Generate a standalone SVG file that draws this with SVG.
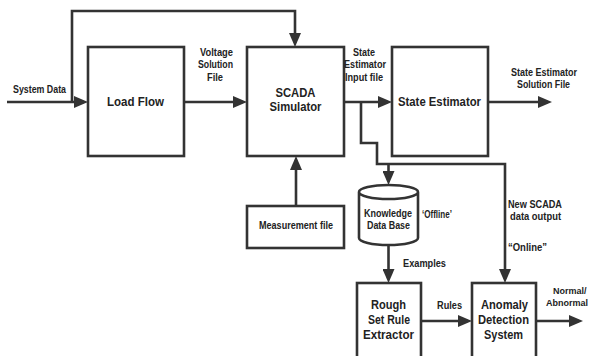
<svg xmlns="http://www.w3.org/2000/svg" width="590" height="356" viewBox="0 0 590 356">
<defs>
<marker id="arr" markerUnits="userSpaceOnUse" markerWidth="14" markerHeight="12" refX="10" refY="6" orient="auto">
<path d="M0,0 L14,6 L0,12 Z" fill="#333"/>
</marker>
<style>
.box{fill:#fff;stroke:#333;stroke-width:2.6}
.ln{fill:none;stroke:#333;stroke-width:2.6;marker-end:url(#arr)}
text{font-family:"Liberation Sans",Arial,sans-serif;font-weight:bold;fill:#222}
.big{font-size:13.5px}
.mid{font-size:13px}
.sm{font-size:10px}
.xs{font-size:9px}
</style>
</defs>
<rect width="590" height="356" fill="#fff"/>
<g id="connectors">
<path class="ln" d="M7,102 H84"/>
<path class="ln" d="M72,102 V11 H295 V43"/>
<path class="ln" d="M184,102 H243"/>
<path class="ln" d="M344,102 H388"/>
<path class="ln" d="M488,102 H548"/>
<path class="ln" d="M361,102 V143 H377 V164 H505 V279"/>
<path class="ln" d="M388.5,164 V181"/>
<path class="ln" d="M296,206 V160"/>
<path class="ln" d="M388.5,245 V279"/>
<path class="ln" d="M421,321 H468"/>
<path class="ln" d="M536,321 H579"/>
</g>
<g id="load-flow">
<rect class="box" x="88" y="47" width="96" height="109"/>
<text class="big" x="107" y="106" textLength="57" lengthAdjust="spacingAndGlyphs">Load Flow</text>
</g>
<g id="scada-simulator">
<rect class="box" x="247" y="47" width="97" height="109"/>
<text class="mid" x="275.5" y="97" textLength="40" lengthAdjust="spacingAndGlyphs">SCADA</text>
<text class="mid" x="269.5" y="111" textLength="52" lengthAdjust="spacingAndGlyphs">Simulator</text>
</g>
<g id="state-estimator">
<rect class="box" x="392" y="47" width="96" height="109"/>
<text class="big" x="398" y="106" textLength="83" lengthAdjust="spacingAndGlyphs">State Estimator</text>
</g>
<g id="measurement-file">
<rect class="box" x="247" y="206" width="97" height="42"/>
<text class="sm" x="259" y="229" textLength="74" lengthAdjust="spacingAndGlyphs">Measurement file</text>
</g>
<g id="knowledge-data-base">
<path class="box" d="M359,192 V238 A29.5,7 0 0 0 418,238 V192 A29.5,7 0 0 0 359,192 A29.5,7 0 0 0 418,192"/>
<text class="sm" x="364" y="217" textLength="48" lengthAdjust="spacingAndGlyphs">Knowledge</text>
<text class="sm" x="367" y="229" textLength="43" lengthAdjust="spacingAndGlyphs">Data Base</text>
</g>
<g id="rough-set-rule-extractor">
<rect class="box" x="357" y="283" width="64" height="80"/>
<text class="big" x="371" y="309" textLength="35" lengthAdjust="spacingAndGlyphs">Rough</text>
<text class="big" x="368" y="324" textLength="42" lengthAdjust="spacingAndGlyphs">Set Rule</text>
<text class="big" x="363" y="339" textLength="51" lengthAdjust="spacingAndGlyphs">Extractor</text>
</g>
<g id="anomaly-detection-system">
<rect class="box" x="472" y="283" width="64" height="80"/>
<text class="big" x="481" y="309" textLength="47" lengthAdjust="spacingAndGlyphs">Anomaly</text>
<text class="big" x="478" y="324" textLength="51" lengthAdjust="spacingAndGlyphs">Detection</text>
<text class="big" x="484" y="339" textLength="39" lengthAdjust="spacingAndGlyphs">System</text>
</g>
<g id="labels">
<text class="sm" x="13" y="93" textLength="53" lengthAdjust="spacingAndGlyphs">System Data</text>
<text class="sm" x="200" y="56" textLength="33" lengthAdjust="spacingAndGlyphs">Voltage</text>
<text class="sm" x="198" y="68" textLength="35" lengthAdjust="spacingAndGlyphs">Solution</text>
<text class="sm" x="207" y="81" textLength="16" lengthAdjust="spacingAndGlyphs">File</text>
<text class="sm" x="353" y="56" textLength="22" lengthAdjust="spacingAndGlyphs">State</text>
<text class="sm" x="344" y="68" textLength="42" lengthAdjust="spacingAndGlyphs">Estimator</text>
<text class="sm" x="345" y="81" textLength="38" lengthAdjust="spacingAndGlyphs">Input file</text>
<text class="sm" x="511" y="76" textLength="66" lengthAdjust="spacingAndGlyphs">State Estimator</text>
<text class="sm" x="517" y="88" textLength="53" lengthAdjust="spacingAndGlyphs">Solution File</text>
<text class="sm" x="422" y="218" textLength="30" lengthAdjust="spacingAndGlyphs">‘Offline’</text>
<text class="sm" x="403" y="267" textLength="43" lengthAdjust="spacingAndGlyphs">Examples</text>
<text class="sm" x="437" y="309" textLength="25" lengthAdjust="spacingAndGlyphs">Rules</text>
<text class="sm" x="508" y="208" textLength="54" lengthAdjust="spacingAndGlyphs">New SCADA</text>
<text class="sm" x="510" y="220" textLength="51" lengthAdjust="spacingAndGlyphs">data output</text>
<text class="sm" x="508" y="251" textLength="39" lengthAdjust="spacingAndGlyphs">“Online”</text>
<text class="xs" x="553" y="294">Normal/</text>
<text class="xs" x="546" y="306">Abnormal</text>
</g>
</svg>
